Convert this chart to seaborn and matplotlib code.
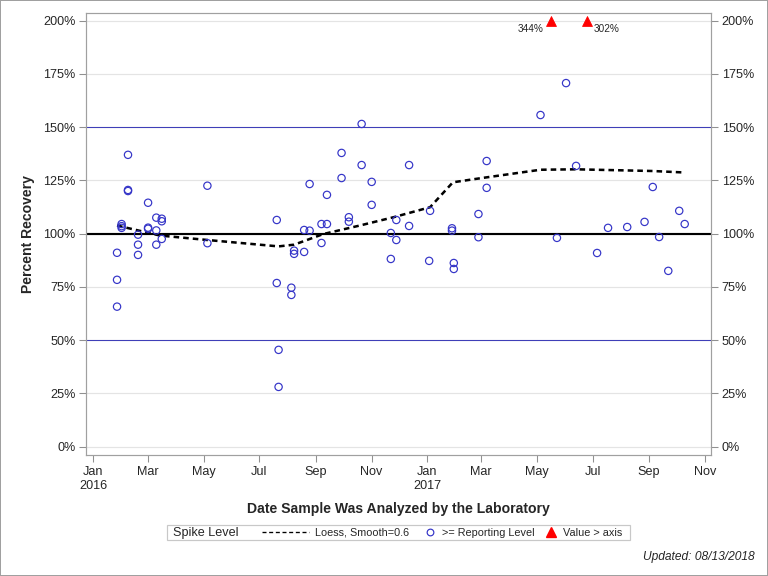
import numpy as np
import pandas as pd
import matplotlib
matplotlib.use("Agg")
import matplotlib.pyplot as plt
import matplotlib.dates as mdates
import matplotlib.ticker as mticker
from matplotlib.lines import Line2D
from matplotlib.patches import Rectangle
import seaborn as sns

# sample results (>= reporting level)
sample_dates = [
    "2016-01-27", "2016-01-27", "2016-01-27",
    "2016-02-01", "2016-02-01", "2016-02-01",
    "2016-02-08", "2016-02-08", "2016-02-08",
    "2016-02-19", "2016-02-19", "2016-02-19",
    "2016-03-01", "2016-03-01", "2016-03-01",
    "2016-03-10", "2016-03-10", "2016-03-10",
    "2016-03-16", "2016-03-16", "2016-03-16",
    "2016-05-05", "2016-05-05",
    "2016-07-20", "2016-07-20",
    "2016-07-22", "2016-07-22",
    "2016-08-05", "2016-08-05",
    "2016-08-08", "2016-08-08",
    "2016-08-19", "2016-08-19",
    "2016-08-25", "2016-08-25",
    "2016-09-07", "2016-09-07",
    "2016-09-13", "2016-09-13",
    "2016-09-29", "2016-09-29",
    "2016-10-07", "2016-10-07",
    "2016-10-21", "2016-10-21",
    "2016-11-01", "2016-11-01",
    "2016-11-22", "2016-11-22",
    "2016-11-28", "2016-11-28",
    "2016-12-12", "2016-12-12",
    "2017-01-03", "2017-01-04",
    "2017-01-28", "2017-01-28",
    "2017-01-30", "2017-01-30",
    "2017-02-26", "2017-02-26",
    "2017-03-07", "2017-03-07",
    "2017-05-05", "2017-05-23", "2017-06-02", "2017-06-13",
    "2017-07-06", "2017-07-18", "2017-08-08", "2017-08-27",
    "2017-09-05", "2017-09-12", "2017-09-22", "2017-10-04", "2017-10-10",
]
recovery = [
    91.0, 78.3, 65.7,
    104.5, 103.5, 102.7,
    137.0, 120.5, 120.0,
    99.5, 94.8, 90.0,
    114.5, 102.8, 102.3,
    107.5, 101.5, 94.8,
    107.0, 105.8, 97.5,
    122.5, 95.5,
    106.4, 76.8,
    45.4, 28.0,
    74.6, 71.2,
    92.0, 90.5,
    101.7, 91.4,
    123.3, 101.4,
    104.5, 95.6,
    118.2, 104.5,
    137.9, 126.1,
    107.7, 105.6,
    151.5, 132.2,
    124.3, 113.5,
    100.3, 88.1,
    106.4, 97.0,
    132.2, 103.6,
    87.2, 110.7,
    102.5, 101.4,
    86.2, 83.4,
    109.2, 98.3,
    134.1, 121.5,
    155.7, 98.0, 170.7, 131.8,
    90.9, 102.7, 103.1, 105.5,
    121.9, 98.4, 82.5, 110.7, 104.5,
]

# values above the axis maximum
over_dates = ["2017-05-16", "2017-06-25"]
over_values = [344, 302]

# loess smooth
loess_dates = ["2016-01-27", "2016-03-14", "2016-05-05", "2016-07-22", "2016-08-08",
               "2016-09-09", "2016-10-19", "2016-11-25", "2017-01-04", "2017-01-29",
               "2017-02-28", "2017-05-05", "2017-06-13", "2017-09-05", "2017-10-10"]
loess_values = [103.8, 99.1, 97.0, 94.0, 94.8,
                99.8, 103.8, 107.7, 112.4, 124.1,
                126.0, 130.0, 130.2, 129.4, 128.7]

y_max = 200

df = pd.DataFrame({"date": pd.to_datetime(sample_dates), "pct": recovery})
df_loess = pd.DataFrame({"date": pd.to_datetime(loess_dates), "pct": loess_values})
df_over = pd.DataFrame({"date": pd.to_datetime(over_dates), "val": over_values})
df_over["pct"] = np.minimum(df_over["val"], y_max)

sns.set_style("white")
plt.rcParams["font.family"] = ["Liberation Sans Narrow", "Liberation Sans", "DejaVu Sans"]
reg_font = ["Liberation Sans", "DejaVu Sans"]

fig = plt.figure(figsize=(8, 6), dpi=96, linewidth=1.5, edgecolor="#A0A0A0")
ax = fig.add_axes([0.112, 0.210, 0.814, 0.767])

blue = "#3535C8"
ax.set_ylim(-4, 203.5)
for v in range(0, 201, 25):
    ax.axhline(v, color="#E4E4E4", lw=0.9, zorder=0)
ax.axhline(150, color="#3F3FB8", lw=0.8, zorder=1)
ax.axhline(50, color="#3F3FB8", lw=0.8, zorder=1)
ax.axhline(100, color="black", lw=1.6, zorder=1)

sns.lineplot(data=df_loess, x="date", y="pct", ax=ax, color="black",
             lw=1.9, dashes=False, zorder=3)
ax.lines[-1].set_dashes((2.2, 1.6))

sns.scatterplot(data=df, x="date", y="pct", ax=ax, marker="o", s=30,
                facecolor="none", edgecolor=blue, linewidth=0.9, zorder=4)

sns.scatterplot(data=df_over, x="date", y="pct", ax=ax, marker="^", s=55,
                color="red", edgecolor="red", zorder=5, clip_on=False)
for i, row in df_over.iterrows():
    if i == 0:
        ax.annotate(f"{row['val']}%", (row["date"], row["pct"]), xytext=(-5, -6),
                    textcoords="offset points", ha="right", va="center", fontsize=7.5,
                    family=reg_font)
    else:
        ax.annotate(f"{row['val']}%", (row["date"], row["pct"]), xytext=(5, -6),
                    textcoords="offset points", ha="left", va="center", fontsize=7.5,
                    family=reg_font)

ax.set_xlim(pd.Timestamp("2015-12-24"), pd.Timestamp("2017-11-08"))
ax.xaxis.set_major_locator(mdates.MonthLocator(bymonth=[1, 3, 5, 7, 9, 11]))


def month_fmt(x, pos):
    d = mdates.num2date(x)
    s = d.strftime("%b")
    if d.month == 1:
        s += "\n" + str(d.year)
    return s


ax.xaxis.set_major_formatter(mticker.FuncFormatter(month_fmt))
ax.set_yticks(range(0, 201, 25))
ax.yaxis.set_major_formatter(mticker.FuncFormatter(lambda v, p: f"{int(v)}%"))
ax.tick_params(axis="both", which="major", direction="out", length=5, width=0.8,
               color="#909090", labelsize=9.5, pad=3, left=True, bottom=True,
               right=True, labelright=True)
for sp in ax.spines.values():
    sp.set_color("#A0A0A0")
    sp.set_linewidth(0.9)

ax.set_xlabel("Date Sample Was Analyzed by the Laboratory", fontsize=10.5,
              fontweight="bold", labelpad=8)
ax.set_ylabel("Percent Recovery", fontsize=10.5, fontweight="bold", labelpad=6)

# legend
fig.patches.append(Rectangle((0.217, 0.0625), 0.603, 0.0265, transform=fig.transFigure,
                             fill=False, edgecolor="#C8C8C8", lw=0.9))
fig.text(0.225, 0.0748, "Spike Level", fontsize=9.5, va="center", family=reg_font)
h_line = Line2D([], [], color="black", lw=1.0, dashes=(3, 2))
leg1 = fig.legend([h_line], ["Loess, Smooth=0.6"], loc="center left",
                  bbox_to_anchor=(0.341, 0.0752), frameon=False, handlelength=4.3,
                  handletextpad=0.6, prop={"family": reg_font, "size": 8.2},
                  borderpad=0, borderaxespad=0)
h_circ = Line2D([], [], marker="o", ls="none", markerfacecolor="none",
                markeredgecolor=blue, markersize=5, markeredgewidth=0.9)
h_tri = Line2D([], [], marker="^", ls="none", color="red", markersize=7)
leg2 = fig.legend([h_circ, h_tri], [">= Reporting Level", "Value > axis"],
                  loc="center left", bbox_to_anchor=(0.553, 0.0752), frameon=False,
                  ncol=2, handlelength=1.0, handletextpad=0.6, columnspacing=1.0,
                  prop={"family": reg_font, "size": 8.2},
                  borderpad=0, borderaxespad=0)

fig.text(0.983, 0.033, "Updated: 08/13/2018", ha="right", va="center",
         fontsize=9, style="italic", family=reg_font)

fig.savefig("out.png", dpi=96, edgecolor=fig.get_edgecolor())
